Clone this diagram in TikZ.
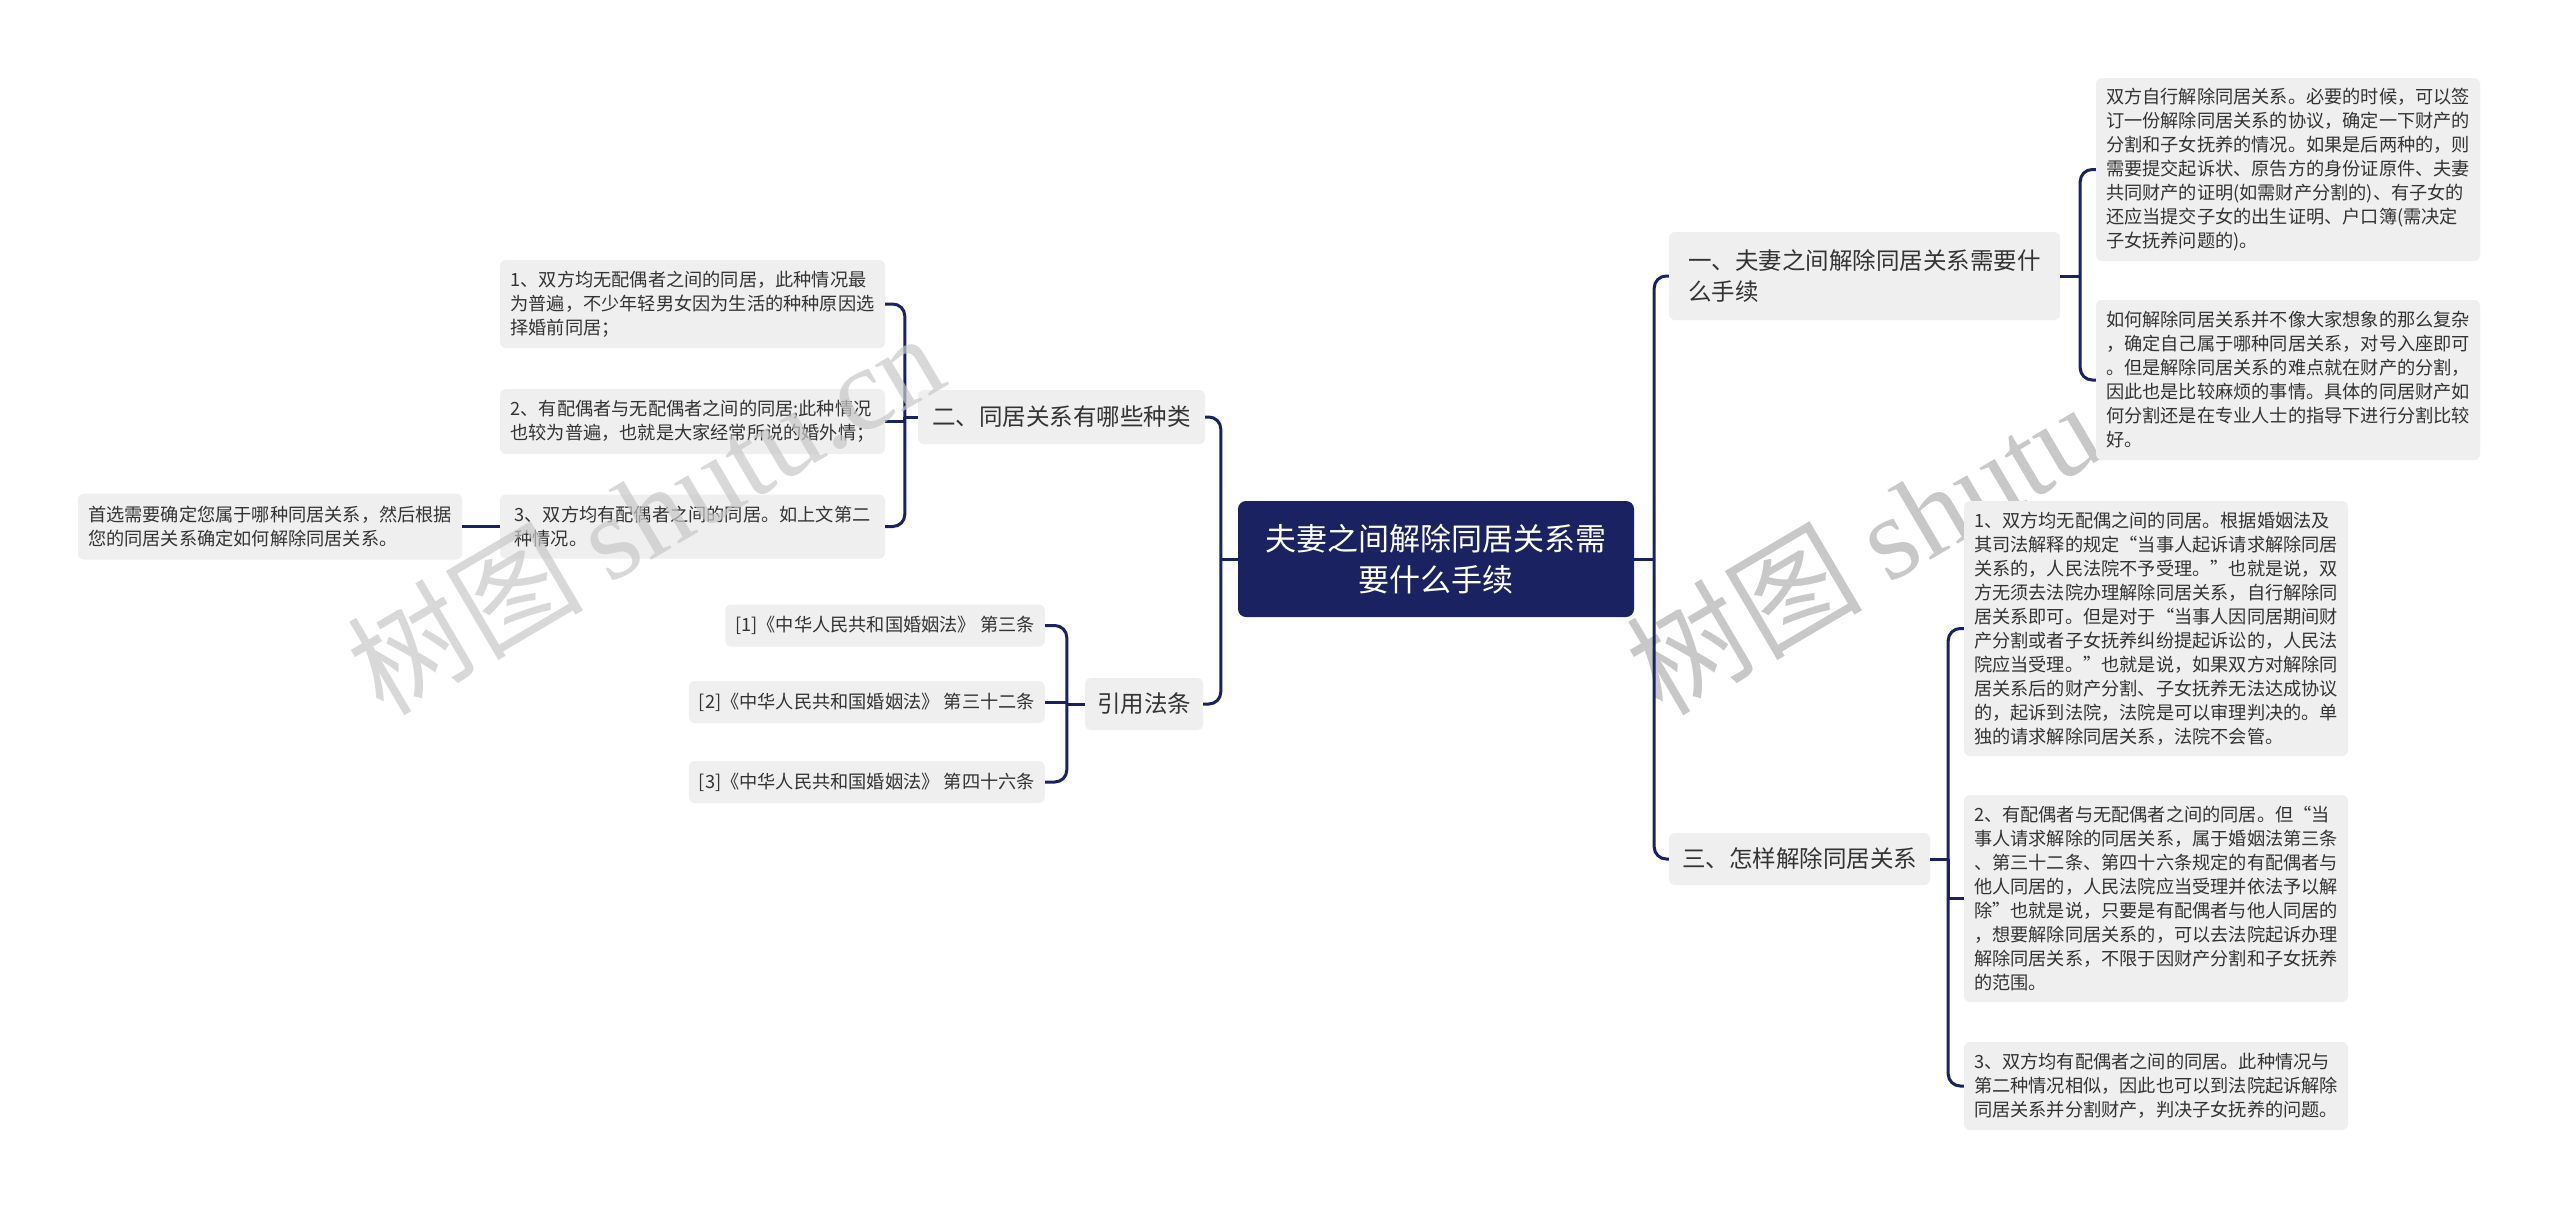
\documentclass[tikz,border=0pt]{standalone}
\usepackage{fontspec}
\setmainfont{Noto Sans CJK SC}
\newfontfamily\wmlatin{Liberation Serif}
\definecolor{navy}{RGB}{27,34,98}
\definecolor{leafgray}{RGB}{239,239,239}
\definecolor{textgray}{RGB}{51,51,51}
\definecolor{wmgray}{RGB}{200,200,200}
\tikzset{
  leaf/.style={fill=leafgray, rounded corners=6, align=left, text=textgray,
    font=\fontsize{18.2}{24}\selectfont, inner xsep=10, inner ysep=6},
  branch/.style={fill=leafgray, rounded corners=6, align=left, text=textgray,
    font=\fontsize{23.5}{31}\selectfont, inner xsep=12, inner ysep=6},
  rootbox/.style={fill=navy, rounded corners=8, align=center, text=white,
    font=\fontsize{31}{41}\selectfont},
  conn/.style={draw=navy, line width=3},
  rc/.style={rounded corners=12},
  watermark/.style={text=wmgray, rotate=30.5, font=\fontsize{118}{118}\selectfont}
}
\begin{document}
\begin{tikzpicture}[x=1pt,y=-1pt]
\fill[white] (0,0) rectangle (2560,1211);
\useasboundingbox (0,0) rectangle (2560,1211);

% right watermark (under the boxes)
\node[watermark] (wm2) at (1924,512) {树图 {\wmlatin shutu.cn}};

% root
\node[rootbox, minimum width=396, minimum height=116] (root) at (1436,559)
  {夫妻之间解除同居关系需\\要什么手续};

% branches
\node[branch, minimum width=391, minimum height=88] (b1) at (1864.5,276)
  {一、夫妻之间解除同居关系需要什\\么手续};
\node[branch, minimum width=261, minimum height=52] (b3) at (1799.5,859)
  {三、怎样解除同居关系};
\node[branch, minimum width=287, minimum height=54] (b2) at (1061.5,417)
  {二、同居关系有哪些种类};
\node[branch, minimum width=116, minimum height=52] (b4) at (1144,704)
  {引用法条};

% right leaves
\node[leaf, minimum width=384, minimum height=183] (r1a) at (2288,169.5)
  {双方自行解除同居关系。必要的时候，可以签\\
   订一份解除同居关系的协议，确定一下财产的\\
   分割和子女抚养的情况。如果是后两种的，则\\
   需要提交起诉状、原告方的身份证原件、夫妻\\
   共同财产的证明(如需财产分割的)、有子女的\\
   还应当提交子女的出生证明、户口簿(需决定\\
   子女抚养问题的)。};
\node[leaf, minimum width=384, minimum height=160] (r1b) at (2288,380)
  {如何解除同居关系并不像大家想象的那么复杂\\
   ，确定自己属于哪种同居关系，对号入座即可\\
   。但是解除同居关系的难点就在财产的分割，\\
   因此也是比较麻烦的事情。具体的同居财产如\\
   何分割还是在专业人士的指导下进行分割比较\\
   好。};
\node[leaf, minimum width=384, minimum height=255] (r3a) at (2156,628.5)
  {1、双方均无配偶之间的同居。根据婚姻法及\\
   其司法解释的规定“当事人起诉请求解除同居\\
   关系的，人民法院不予受理。”也就是说，双\\
   方无须去法院办理解除同居关系，自行解除同\\
   居关系即可。但是对于“当事人因同居期间财\\
   产分割或者子女抚养纠纷提起诉讼的，人民法\\
   院应当受理。”也就是说，如果双方对解除同\\
   居关系后的财产分割、子女抚养无法达成协议\\
   的，起诉到法院，法院是可以审理判决的。单\\
   独的请求解除同居关系，法院不会管。};
\node[leaf, minimum width=384, minimum height=207] (r3b) at (2156,898.5)
  {2、有配偶者与无配偶者之间的同居。但“当\\
   事人请求解除的同居关系，属于婚姻法第三条\\
   、第三十二条、第四十六条规定的有配偶者与\\
   他人同居的，人民法院应当受理并依法予以解\\
   除”也就是说，只要是有配偶者与他人同居的\\
   ，想要解除同居关系的，可以去法院起诉办理\\
   解除同居关系，不限于因财产分割和子女抚养\\
   的范围。};
\node[leaf, minimum width=384, minimum height=88] (r3c) at (2156,1086)
  {3、双方均有配偶者之间的同居。此种情况与\\
   第二种情况相似，因此也可以到法院起诉解除\\
   同居关系并分割财产，判决子女抚养的问题。};

% left leaves
\node[leaf, minimum width=385, minimum height=88] (l2a) at (692.5,304)
  {1、双方均无配偶者之间的同居，此种情况最\\
   为普遍，不少年轻男女因为生活的种种原因选\\
   择婚前同居；};
\node[leaf, minimum width=385, minimum height=65] (l2b) at (692.5,421.5)
  {2、有配偶者与无配偶者之间的同居;此种情况\\
   也较为普遍，也就是大家经常所说的婚外情；};
\node[leaf, minimum width=385, minimum height=64] (l2c) at (692.5,526.5)
  {3、双方均有配偶者之间的同居。如上文第二\\
   种情况。};
\node[leaf, minimum width=384, minimum height=66] (l2d) at (270,526.5)
  {首选需要确定您属于哪种同居关系，然后根据\\
   您的同居关系确定如何解除同居关系。};
\node[leaf, anchor=east, minimum width=315, minimum height=42] (l4a) at (1045,625.5)
  {[1]《中华人民共和国婚姻法》 第三条};
\node[leaf, anchor=east, minimum width=353, minimum height=42] (l4b) at (1045,702)
  {[2]《中华人民共和国婚姻法》 第三十二条};
\node[leaf, anchor=east, minimum width=353, minimum height=42] (l4c) at (1045,782)
  {[3]《中华人民共和国婚姻法》 第四十六条};

% connectors: root right
\coordinate (jR) at ([xshift=20]root.east);
\draw[conn] (root.east) -- (jR);
\draw[conn, rc] (jR) |- (b1.west);
\draw[conn, rc] (jR) |- (b3.west);
% root left
\coordinate (jL) at ([xshift=-17]root.west);
\draw[conn] (root.west) -- (jL);
\draw[conn, rc] (jL) |- (b2.east);
\draw[conn, rc] (jL) |- (b4.east);
% b1
\coordinate (j1) at ([xshift=20]b1.east);
\draw[conn] (b1.east) -- (j1);
\draw[conn, rc] (j1) |- (r1a.west);
\draw[conn, rc] (j1) |- (r1b.west);
% b3
\coordinate (j3) at ([xshift=18]b3.east);
\draw[conn] (b3.east) -- (j3);
\draw[conn, rc] (j3) |- (r3a.west);
\draw[conn] (j3) |- (r3b.west);
\draw[conn, rc] (j3) |- (r3c.west);
% b2
\coordinate (j2) at ([xshift=-13]b2.west);
\draw[conn] (b2.west) -- (j2);
\draw[conn, rc] (j2) |- (l2a.east);
\draw[conn] (j2) |- (l2b.east);
\draw[conn, rc] (j2) |- (l2c.east);
\draw[conn] (l2c.west) -- (l2d.east);
% b4
\coordinate (j4) at ([xshift=-18]b4.west);
\draw[conn] (b4.west) -- (j4);
\draw[conn, rc] (j4) |- (l4a.east);
\draw[conn] (j4) |- (l4b.east);
\draw[conn, rc] (j4) |- (l4c.east);

% left watermark (over the boxes)
\node[watermark, opacity=0.7] (wm1) at (645,512) {树图 {\wmlatin shutu.cn}};
\end{tikzpicture}
\end{document}
